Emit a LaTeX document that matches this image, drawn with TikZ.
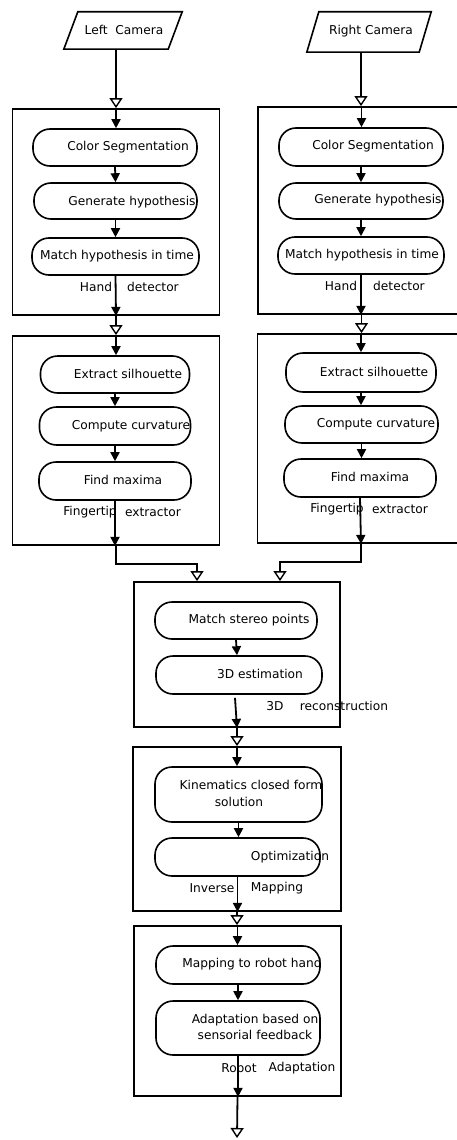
\documentclass[tikz,border=0pt]{standalone}
\usepackage{fontspec}
\setmainfont{DejaVu Sans}
\usetikzlibrary{arrows.meta}
\tikzset{
  module/.style={draw, line width=1.8pt, inner sep=0pt},
  stepbox/.style={draw, line width=1.6pt, rounded corners=17pt, inner sep=0pt},
  txt/.style={inner sep=0pt, font=\fontsize{12.2}{16.5}\selectfont},
  camera/.style={inner sep=0pt},
  flow/.style={line width=1.8pt, -{Triangle[length=9pt,width=9pt]}},
  handoff/.style={line width=1.8pt, -{Triangle[open,length=10pt,width=13pt,line width=1.4pt]}},
}
\begin{document}
\begin{tikzpicture}[x=1pt,y=-1pt]
\useasboundingbox (0,0) rectangle (457,1140);

% ---------- cameras ----------
\node[camera, minimum width=104pt, minimum height=37pt] (LC) at (123,30.5) {};
\node[txt] (LCt) at (124,30) {Left\ \ Camera};
\draw[line width=1.6pt] ([xshift=7pt]LC.north west) -- ([xshift=7pt]LC.north east)
  -- ([xshift=-7pt]LC.south east) -- ([xshift=-7pt]LC.south west) -- cycle;

\node[camera, minimum width=112pt, minimum height=40pt] (RC) at (369,32) {};
\node[txt] (RCt) at (371,31) {Right Camera};
\draw[line width=1.6pt] ([xshift=6pt]RC.north west) -- ([xshift=6pt]RC.north east)
  -- ([xshift=-6pt]RC.south east) -- ([xshift=-6pt]RC.south west) -- cycle;

% ---------- module frames ----------
\node[module, minimum width=207pt, minimum height=206pt] (HDL) at (116,212) {};
\node[module, minimum width=207pt, minimum height=207pt] (HDR) at (361.5,210.5) {};
\node[module, minimum width=207pt, minimum height=209pt] (FEL) at (116,440.5) {};
\node[module, minimum width=207pt, minimum height=209pt] (FER) at (361,438.5) {};
\node[module, minimum width=206pt, minimum height=145pt] (REC) at (237,654.5) {};
\node[module, minimum width=208pt, minimum height=164pt] (INV) at (237,829) {};
\node[module, minimum width=207pt, minimum height=170pt] (ROB) at (237.5,1011) {};

% ---------- hand detector, left ----------
\node[stepbox, minimum width=164pt, minimum height=37pt] (csL) at (115,147.5) {};
\node[stepbox, minimum width=163pt, minimum height=36pt] (ghL) at (115.5,201) {};
\node[stepbox, minimum width=167pt, minimum height=37pt] (mhL) at (115.5,256.5) {};
\node[txt] (csLt) at (128,147) {Color Segmentation};
\node[txt] (ghLt) at (132,202) {Generate hypothesis};
\node[txt] (mhLt) at (117,256) {Match hypothesis in time};
\node[txt] (hdL1) at (96,287) {Hand};
\node[txt] (hdL2) at (153,287) {detector};

% ---------- hand detector, right ----------
\node[stepbox, minimum width=164pt, minimum height=38pt] (csR) at (361,147) {};
\node[stepbox, minimum width=164pt, minimum height=36pt] (ghR) at (361,201) {};
\node[stepbox, minimum width=166pt, minimum height=37pt] (mhR) at (361,255.5) {};
\node[txt] (csRt) at (373,146) {Color Segmentation};
\node[txt] (ghRt) at (378,200) {Generate hypothesis};
\node[txt] (mhRt) at (362,255) {Match hypothesis in time};
\node[txt] (hdR1) at (341,286) {Hand};
\node[txt] (hdR2) at (399,286) {detector};

% ---------- fingertip extractor, left ----------
\node[stepbox, minimum width=149pt, minimum height=37pt] (esL) at (115,374.5) {};
\node[stepbox, minimum width=151pt, minimum height=38pt] (ccL) at (115,426) {};
\node[stepbox, minimum width=152pt, minimum height=38pt] (fmL) at (115,481) {};
\node[txt] (esLt) at (128,374) {Extract silhouette};
\node[txt] (ccLt) at (131,426) {Compute curvature};
\node[txt] (fmLt) at (123,480) {Find maxima};
\node[txt] (feL1) at (90,512) {Fingertip};
\node[txt] (feL2) at (153,512) {extractor};

% ---------- fingertip extractor, right ----------
\node[stepbox, minimum width=150pt, minimum height=39pt] (esR) at (361,372.5) {};
\node[stepbox, minimum width=153pt, minimum height=37pt] (ccR) at (361.5,424.5) {};
\node[stepbox, minimum width=152pt, minimum height=38pt] (fmR) at (360,478) {};
\node[txt] (esRt) at (374,372) {Extract silhouette};
\node[txt] (ccRt) at (376,424) {Compute curvature};
\node[txt] (fmRt) at (370,477) {Find maxima};
\node[txt] (feR1) at (337,509) {Fingertip};
\node[txt] (feR2) at (400,509) {extractor};

% ---------- 3D reconstruction ----------
\node[stepbox, minimum width=162pt, minimum height=37pt] (msp) at (236,620.5) {};
\node[stepbox, minimum width=166pt, minimum height=38pt] (est) at (239,675) {};
\node[txt] (mspt) at (249,620) {Match stereo points};
\node[txt] (estt) at (260,674) {3D estimation};
\node[txt] (rc1) at (275,706) {3D};
\node[txt] (rc2) at (344,706) {reconstruction};

% ---------- inverse mapping ----------
\node[stepbox, minimum width=167pt, minimum height=55pt] (kin) at (238.5,794.5) {};
\node[stepbox, minimum width=165pt, minimum height=38pt] (opt) at (237.5,857) {};
\node[txt] (kint1) at (251,785) {Kinematics closed form};
\node[txt] (kint2) at (239,802) {solution};
\node[txt] (optt) at (290,857) {Optimization};
\node[txt] (im1) at (212,888) {Inverse};
\node[txt] (im2) at (277,888) {Mapping};

% ---------- robot adaptation ----------
\node[stepbox, minimum width=164pt, minimum height=38pt] (mrh) at (238,965) {};
\node[stepbox, minimum width=164pt, minimum height=54pt] (ada) at (238,1028) {};
\node[txt] (mrht) at (252,964) {Mapping to robot hand};
\node[txt, align=center] (adat) at (255,1027) {Adaptation based on\\sensorial feedback};
\node[txt] (ra1) at (239,1068) {Robot};
\node[txt] (ra2) at (302,1068) {Adaptation};

\coordinate (out) at (237,1138);
\coordinate (jL) at ([xshift=-40pt]REC.north);
\coordinate (jR) at ([xshift=43pt]REC.north);

% ---------- connectors: left branch ----------
\draw[handoff] ([xshift=-7pt]LC.south) -- ([xshift=-7pt]LC.south |- HDL.north);
\draw[flow] (HDL.north) -- (HDL.north |- csL.north);
\draw[flow] (csL.south) -- (ghL.north);
\draw[flow] (ghL.south) -- (mhL.north);
\draw[flow] (mhL.south) -- (HDL.south);
\draw[handoff] (HDL.south) -- (FEL.north);
\draw[flow] (FEL.north) -- (FEL.north |- esL.north);
\draw[flow] (esL.south) -- (ccL.north);
\draw[flow] (ccL.south) -- (fmL.north);
\draw[flow] (fmL.south) -- (fmL.south |- FEL.south);
\draw[handoff] (FEL.south) -- ++(0,18) -| (jL);

% ---------- connectors: right branch ----------
\draw[handoff] ([xshift=-8pt]RC.south) -- ([xshift=-8pt]RC.south |- HDR.north);
\draw[flow] (HDR.north) -- (HDR.north |- csR.north);
\draw[flow] (csR.south) -- (ghR.north);
\draw[flow] (ghR.south) -- (mhR.north);
\draw[flow] (mhR.south) -- (mhR.south |- HDR.south);
\draw[handoff] (HDR.south) -- (HDR.south |- FER.north);
\draw[flow] (FER.north) -- (FER.north |- esR.north);
\draw[flow] (esR.south) -- (esR.south |- ccR.north);
\draw[flow] (ccR.south) -- (ccR.south |- fmR.north);
\draw[flow] (fmR.south) -- ([xshift=1pt]fmR.south |- FER.south);
\draw[handoff] ([xshift=1pt]fmR.south |- FER.south) -- ++(0,18) -| (jR);

% ---------- connectors: shared trunk ----------
\draw[flow] (msp.south) -- ([xshift=-2pt]est.north);
\draw[flow] ([xshift=-4pt,yshift=-3pt]est.south) -- (REC.south);
\draw[handoff] (REC.south) -- (INV.north);
\draw[flow] (INV.north) -- (INV.north |- kin.north);
\draw[flow] (kin.south) -- (kin.south |- opt.north);
\draw[flow] (opt.south) -- (opt.south |- INV.south);
\draw[handoff] (INV.south) -- (INV.south |- ROB.north);
\draw[flow] (ROB.north) -- (ROB.north |- mrh.north);
\draw[flow] (mrh.south) -- (ada.north);
\draw[flow] (ada.south) -- (ada.south |- ROB.south);
\draw[handoff] (ROB.south) -- (out);
\end{tikzpicture}
\end{document}
